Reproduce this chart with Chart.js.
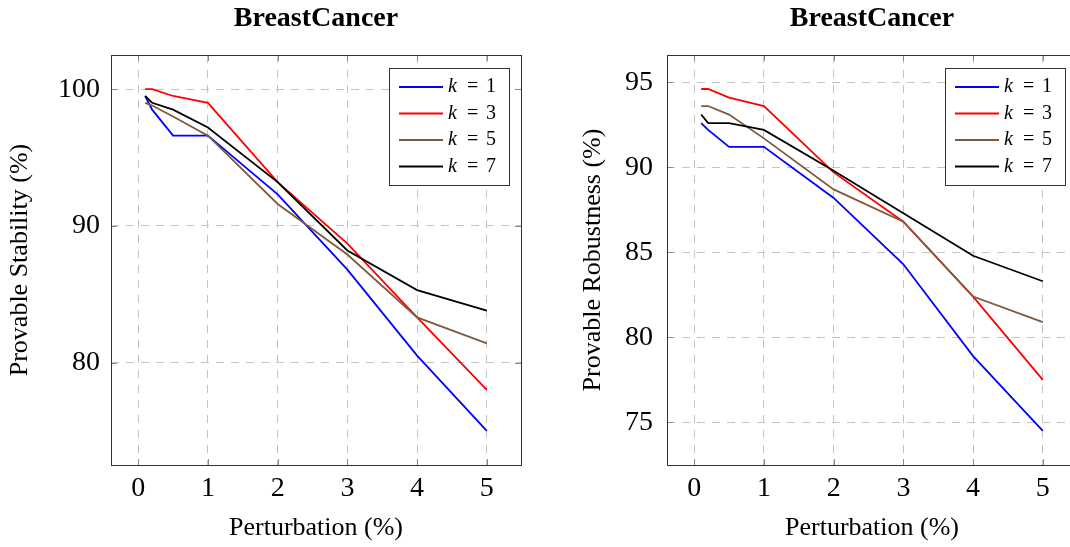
<!DOCTYPE html>
<html lang="en">
<head>
<meta charset="UTF-8">
<title>BreastCancer</title>
<script src="https://cdn.jsdelivr.net/npm/chart.js"></script>
<style>
    body { margin: 0; background: #fff; width: 1070px; height: 547px; overflow: hidden; position: relative; }
    .panel { position: absolute; top: 0; }
    #leftPanel { left: 0; }
    #rightPanel { left: 560px; }
</style>
</head>
<body>
<div class="panel" id="leftPanel"><canvas id="stabilityChart" width="545" height="547"></canvas></div>
<div class="panel" id="rightPanel"><canvas id="robustnessChart" width="541" height="547"></canvas></div>
<script>
// perturbation levels (%) on the x axis
const perturbation = [0.1, 0.2, 0.5, 1, 2, 3, 4, 5];
const kValues = [1, 3, 5, 7];
const lineColors = ['#0000ff', '#ff0000', '#7f5a3a', '#000000'];
const xTicks = [0, 1, 2, 3, 4, 5];

// provable stability (%)
const stabK1 = [99.5, 98.5, 96.6, 96.6, 92.3, 86.8, 80.5, 75.0];
const stabK3 = [100, 100, 99.5, 99.0, 93.2, 88.7, 83.3, 78.0];
const stabK5 = [99.0, 98.8, 98.0, 96.6, 91.6, 87.9, 83.3, 81.4];
const stabK7 = [99.5, 99.0, 98.5, 97.2, 93.2, 88.2, 85.3, 83.8];
const stabTicks = [80, 90, 100];

// provable robustness (%)
const robK1 = [92.6, 92.2, 91.2, 91.2, 88.2, 84.3, 78.9, 74.5];
const robK3 = [94.6, 94.6, 94.1, 93.6, 89.7, 86.8, 82.4, 77.5];
const robK5 = [93.6, 93.6, 93.1, 91.7, 88.7, 86.8, 82.4, 80.9];
const robK7 = [93.1, 92.6, 92.6, 92.2, 89.8, 87.3, 84.8, 83.3];
const robTicks = [75, 80, 85, 90, 95];

const FONT = '"Liberation Serif", "DejaVu Serif", serif';

// plot frame with inward tick marks
const framePlugin = {
    id: 'frame',
    afterDatasetsDraw(chart) {
        const ctx = chart.ctx;
        const a = chart.chartArea;
        const xs = chart.scales.x, ys = chart.scales.y;
        ctx.save();
        ctx.strokeStyle = '#888';
        ctx.lineWidth = 1;
        ctx.beginPath();
        xs.ticks.forEach(t => {
            const px = Math.round(xs.getPixelForValue(t.value)) + 0.5;
            ctx.moveTo(px, a.bottom); ctx.lineTo(px, a.bottom - 6);
            ctx.moveTo(px, a.top); ctx.lineTo(px, a.top + 6);
        });
        ys.ticks.forEach(t => {
            const py = Math.round(ys.getPixelForValue(t.value)) + 0.5;
            ctx.moveTo(a.left, py); ctx.lineTo(a.left + 6, py);
            ctx.moveTo(a.right, py); ctx.lineTo(a.right - 6, py);
        });
        ctx.stroke();
        ctx.strokeStyle = '#333';
        ctx.strokeRect(Math.round(a.left) + 0.5, Math.round(a.top) + 0.5,
            Math.round(a.right - a.left), Math.round(a.bottom - a.top));
        ctx.restore();
    }
};

// boxed legend in the top right corner of the plot
const legendPlugin = {
    id: 'boxLegend',
    afterDraw(chart) {
        const ctx = chart.ctx;
        const a = chart.chartArea;
        const w = 120, h = 117;
        const left = a.right - 12 - w, top = a.top + 13;
        ctx.save();
        ctx.fillStyle = '#fff';
        ctx.fillRect(left, top, w, h);
        ctx.strokeStyle = '#333';
        ctx.lineWidth = 1;
        ctx.strokeRect(Math.round(left) + 0.5, Math.round(top) + 0.5, w, h);
        chart.data.datasets.forEach((ds, i) => {
            const y = top + 19 + i * 26.5;
            ctx.strokeStyle = ds.borderColor;
            ctx.lineWidth = 2;
            ctx.beginPath();
            ctx.moveTo(left + 10, y);
            ctx.lineTo(left + 54, y);
            ctx.stroke();
            ctx.fillStyle = '#000';
            ctx.textBaseline = 'middle';
            ctx.textAlign = 'left';
            ctx.font = 'italic 20px ' + FONT;
            ctx.fillText('k', left + 59, y);
            ctx.font = '20px ' + FONT;
            ctx.fillText('=', left + 78, y);
            ctx.fillText(String(kValues[i]), left + 97, y);
        });
        ctx.restore();
    }
};

function makeChart(canvasId, series, yTicks, yMin, yMax, yLabel, axisWidth, titlePad, tickPad) {
    const datasets = series.map((vals, i) => ({
        label: 'k = ' + kValues[i],
        data: vals.map((v, j) => ({ x: perturbation[j], y: v })),
        borderColor: lineColors[i],
        backgroundColor: lineColors[i],
        borderWidth: 1.8,
        pointRadius: 0,
        tension: 0,
        fill: false,
        order: series.length - i
    }));
    return new Chart(document.getElementById(canvasId), {
        type: 'line',
        data: { datasets: datasets },
        options: {
            responsive: false,
            animation: false,
            layout: { padding: { left: 0, right: 24, top: 0, bottom: 0 } },
            plugins: {
                legend: { display: false },
                tooltip: { enabled: false },
                title: {
                    display: true,
                    text: 'BreastCancer',
                    fullSize: false,
                    color: '#000',
                    font: { family: FONT, size: 28, weight: 'bold' },
                    padding: { top: 2, bottom: 19.4 }
                }
            },
            scales: {
                x: {
                    type: 'linear',
                    min: -0.39,
                    max: 5.49,
                    afterBuildTicks: s => { s.ticks = xTicks.map(v => ({ value: v })); },
                    afterFit: s => { s.height = 82; },
                    grid: { color: '#c4c4c4', lineWidth: 1, drawTicks: false },
                    border: { display: false, dash: [8, 7] },
                    ticks: { color: '#000', font: { family: FONT, size: 28 }, padding: 7 },
                    title: {
                        display: true,
                        text: 'Perturbation (%)',
                        color: '#000',
                        font: { family: FONT, size: 26 },
                        padding: { top: 0, bottom: 3 }
                    }
                },
                y: {
                    min: yMin,
                    max: yMax,
                    afterBuildTicks: s => { s.ticks = yTicks.map(v => ({ value: v })); },
                    afterFit: s => { s.width = axisWidth; },
                    grid: { color: '#c4c4c4', lineWidth: 1, drawTicks: false },
                    border: { display: false, dash: [8, 7] },
                    ticks: { color: '#000', font: { family: FONT, size: 28 }, padding: tickPad },
                    title: {
                        display: true,
                        text: yLabel,
                        color: '#000',
                        font: { family: FONT, size: 26 },
                        padding: { top: titlePad, bottom: 0 }
                    }
                }
            }
        },
        plugins: [framePlugin, legendPlugin]
    });
}

makeChart('stabilityChart', [stabK1, stabK3, stabK5, stabK7], stabTicks, 72.5, 102.5,
    'Provable Stability (%)', 111, 5, 11);
makeChart('robustnessChart', [robK1, robK3, robK5, robK7], robTicks, 72.5, 96.6,
    'Provable Robustness (%)', 107, 17.4, 14);
</script>
</body>
</html>
